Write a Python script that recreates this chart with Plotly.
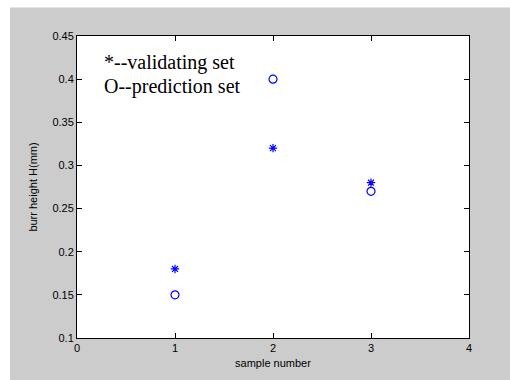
import plotly.graph_objects as go

samples = [1, 2, 3]
validating = [0.18, 0.32, 0.28]
prediction = [0.15, 0.40, 0.27]
y_ticks = [0.1, 0.15, 0.2, 0.25, 0.3, 0.35, 0.4, 0.45]
y_tick_labels = ["0.1", "0.15", "0.2", "0.25", "0.3", "0.35", "0.4", "0.45"]
x_ticks = [0, 1, 2, 3, 4]

fig = go.Figure()
fig.add_trace(go.Scatter(x=samples, y=validating, mode="markers",
                         marker=dict(symbol="asterisk-open", size=7, color="#0000ff",
                                     line=dict(color="#0000ff", width=1.2)),
                         showlegend=False))
fig.add_trace(go.Scatter(x=samples, y=prediction, mode="markers",
                         marker=dict(symbol="circle-open", size=8, color="#0000ff",
                                     line=dict(color="#0000ff", width=1.2)),
                         showlegend=False))

W, H = 510, 380
L, R, T, B = 77, 41, 36, 36
pw, ph = W - L - R, H - T - B

def px(x):
    return (x - L) / pw

def py(y):
    return (H - B - y) / ph

fig.add_shape(type="rect", xref="paper", yref="paper",
              x0=px(10), x1=px(520), y0=py(390), y1=py(7),
              fillcolor="#cccccc", line=dict(width=0), layer="below")
fig.add_shape(type="rect", xref="paper", yref="paper",
              x0=0, x1=1, y0=0, y1=1,
              fillcolor="#ffffff", line=dict(width=0), layer="below")

serif = "Times New Roman, Liberation Serif, DejaVu Serif, serif"
fig.add_annotation(text="*--validating set", xref="paper", yref="paper",
                   x=px(102), y=py(63), xanchor="left", yanchor="middle",
                   showarrow=False, font=dict(family=serif, size=20, color="black"))
fig.add_annotation(text="O--prediction set", xref="paper", yref="paper",
                   x=px(102), y=py(88), xanchor="left", yanchor="middle",
                   showarrow=False, font=dict(family=serif, size=20, color="black"))

axis_font = dict(family="Arial, Liberation Sans", size=11, color="black")
fig.update_xaxes(range=[0, 4], tickvals=x_ticks, ticktext=[str(v) for v in x_ticks],
                 ticks="inside", ticklen=5, tickcolor="black", mirror="allticks",
                 showline=True, linecolor="black", linewidth=1, showgrid=False,
                 zeroline=False, tickfont=axis_font,
                 title=dict(text="sample number", font=axis_font, standoff=6))
fig.update_yaxes(range=[0.1, 0.45], tickvals=y_ticks, ticktext=y_tick_labels,
                 ticks="inside", ticklen=5, tickcolor="black", mirror="allticks",
                 showline=True, linecolor="black", linewidth=1, showgrid=False,
                 zeroline=False, tickfont=axis_font,
                 title=dict(text="burr height H(mm)", font=axis_font, standoff=12))

fig.update_layout(width=W, height=H, margin=dict(l=L, r=R, t=T, b=B, pad=0),
                  paper_bgcolor="white", plot_bgcolor="rgba(0,0,0,0)",
                  font=axis_font)
fig.write_html("out.html",
               config={"displayModeBar": False},
               post_script="document.documentElement.style.overflow='hidden';"
                           "document.body.style.margin='0';"
                           "document.body.style.overflow='hidden';")
